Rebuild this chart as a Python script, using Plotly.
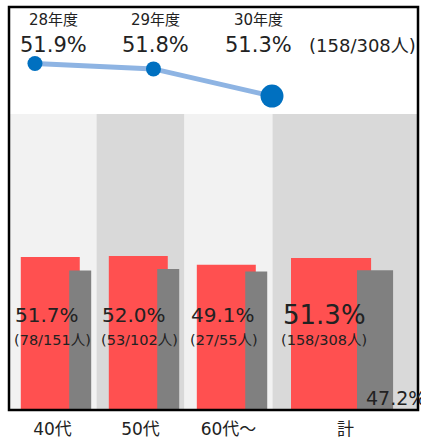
import plotly.graph_objects as go

# top: yearly trend
years = ['28年度', '29年度', '30年度']
year_rates = [51.9, 51.8, 51.3]
year_total = '(158/308人)'

# bottom: by age group
categories = ['40代', '50代', '60代〜', '計']
rates = [51.7, 52.0, 49.1, 51.3]
counts = ['78/151', '53/102', '27/55', '158/308']
compare = [47.1, 47.6, 46.8, 47.2]

FONT = 'DejaVu Sans, Noto Sans CJK JP, sans-serif'

# layout positions of the groups on the lower x axis
pos = [0, 1, 2, 3.33]
red_off = [-0.36, -0.36, -0.36, -0.62]
red_w = [0.67, 0.67, 0.67, 0.91]
gray_off = [0.19, 0.19, 0.19, 0.13]
gray_w = [0.25, 0.25, 0.25, 0.41]
band_edges = [-0.5, 0.5, 1.5, 2.5, 4.16]
band_colors = ['#f2f2f2', '#d9d9d9', '#f2f2f2', '#d9d9d9']
label_left = [-0.49, 0.5, 1.5, 2.5]

fig = go.Figure()

fig.add_trace(go.Bar(
    x=pos, y=rates, offset=red_off, width=red_w,
    marker=dict(color='#ff5050', line=dict(width=0)),
    xaxis='x', yaxis='y', hoverinfo='skip'))
fig.add_trace(go.Bar(
    x=pos, y=compare, offset=gray_off, width=gray_w,
    marker=dict(color='#808080', line=dict(width=0)),
    xaxis='x', yaxis='y', hoverinfo='skip'))

fig.add_trace(go.Scatter(
    x=list(range(len(years))), y=year_rates,
    mode='lines+markers',
    line=dict(color='#8eb4e3', width=5),
    marker=dict(color='#0070c0', size=[15, 15, 23], opacity=1, line=dict(width=0)),
    xaxis='x2', yaxis='y2', hoverinfo='skip'))

shapes = []
for i, c in enumerate(band_colors):
    shapes.append(dict(type='rect', xref='x', yref='y',
                       x0=band_edges[i], x1=band_edges[i + 1], y0=0, y1=100,
                       fillcolor=c, line=dict(width=0), layer='below'))
shapes.append(dict(type='rect', xref='paper', yref='paper', x0=0, x1=1, y0=0, y1=1,
                   line=dict(color='black', width=2.5)))

annotations = []
for i, (y, r) in enumerate(zip(years, year_rates)):
    xp = 0.1076 + 0.2518 * i
    annotations.append(dict(x=xp, y=0.968, xref='paper', yref='paper', text=y,
                            xanchor='center', yanchor='middle',
                            showarrow=False, font=dict(size=15, color='#222')))
    annotations.append(dict(x=xp, y=0.9066, xref='paper', yref='paper', text=f'{r:.1f}%',
                            xanchor='center', yanchor='middle',
                            showarrow=False, font=dict(size=21, color='#222')))
annotations.append(dict(x=0.8655, y=0.904, xref='paper', yref='paper', text=year_total,
                        xanchor='center', yanchor='middle',
                        showarrow=False, font=dict(size=18, color='#222')))

for i, (r, c) in enumerate(zip(rates, counts)):
    big = categories[i] == '計'
    shift = 8 if big else 4
    annotations.append(dict(x=label_left[i], y=32.1, xref='x', yref='y',
                            text=f'{r:.1f}%', showarrow=False, xanchor='left', xshift=shift,
                            font=dict(size=26 if big else 20, color='#222')))
    annotations.append(dict(x=label_left[i], y=23.7, xref='x', yref='y',
                            text=f'({c}人)', showarrow=False, xanchor='left',
                            xshift=shift - 2 if big else shift - 1,
                            font=dict(size=14.5, color='#222')))

annotations.append(dict(x=pos[3] + gray_off[3], y=4.0, xref='x', yref='y',
                        text=f'{compare[3]:.1f}%', showarrow=False, xanchor='left', xshift=7,
                        font=dict(size=19, color='#222')))

split = (414 - 115) / 407

fig.update_layout(
    width=421, height=442,
    margin=dict(l=9, r=3, t=7, b=28),
    paper_bgcolor='white', plot_bgcolor='white',
    showlegend=False, barmode='overlay',
    font=dict(family=FONT, color='#222'),
    xaxis=dict(range=[-0.494, 4.153], domain=[0, 1], tickvals=pos, ticktext=categories,
               showgrid=False, zeroline=False, showline=False,
               ticks='outside', ticklen=4, tickcolor='rgba(0,0,0,0)',
               tickfont=dict(size=17, color='#222')),
    yaxis=dict(range=[0, 100], domain=[0, split], visible=False),
    xaxis2=dict(range=[-0.219, 3.232], anchor='y2', visible=False),
    yaxis2=dict(range=[50.973, 52.936], domain=[split, 1], anchor='x2', visible=False),
    shapes=shapes,
    annotations=annotations,
)

fig.write_html('out.html', config={'displayModeBar': False},
               post_script="document.body.style.margin='0';document.body.style.overflow='hidden';")
